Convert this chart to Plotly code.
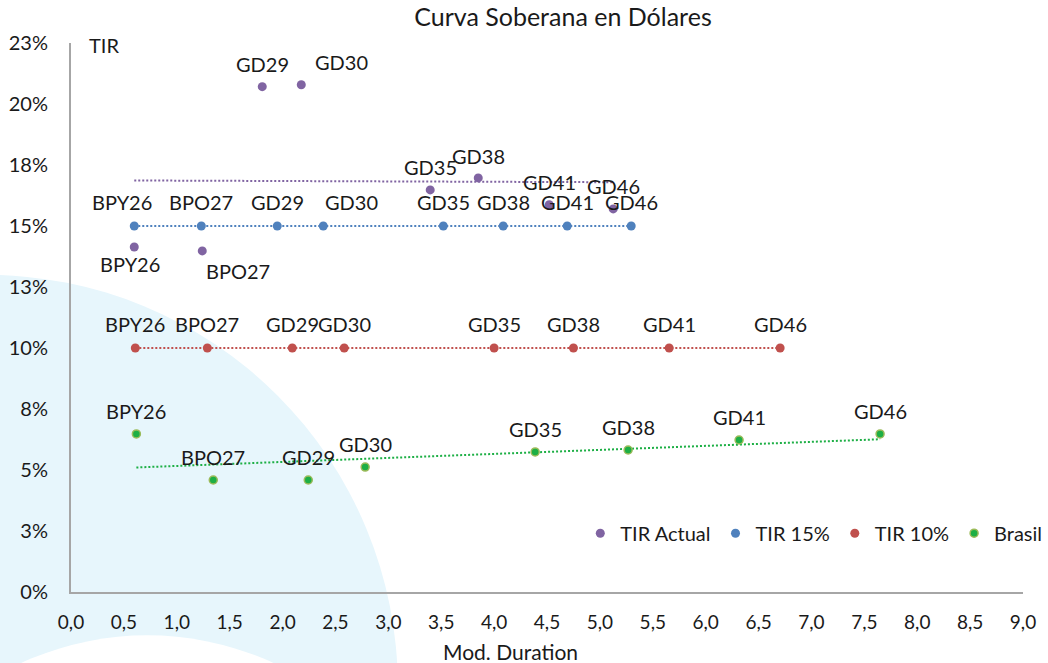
import numpy as np
import plotly.graph_objects as go

# ---------------- data ----------------
bonds = ["BPY26", "BPO27", "GD29", "GD30", "GD35", "GD38", "GD41", "GD46"]

actual_x = [0.598, 1.241, 1.808, 2.177, 3.396, 3.850, 4.521, 5.126]
actual_y = [14.14, 13.98, 20.71, 20.79, 16.48, 16.97, 15.87, 15.70]

tir15_x = [0.598, 1.232, 1.950, 2.385, 3.520, 4.086, 4.691, 5.296]
tir15_y = [15.0, 15.0, 15.0, 15.0, 15.0, 15.0, 15.0, 15.0]

tir10_x = [0.608, 1.289, 2.092, 2.583, 4.000, 4.750, 5.655, 6.704]
tir10_y = [10.0, 10.0, 10.0, 10.0, 10.0, 10.0, 10.0, 10.0]

brasil_x = [0.618, 1.345, 2.243, 2.781, 4.388, 5.267, 6.316, 7.649]
brasil_y = [6.48, 4.59, 4.59, 5.12, 5.74, 5.82, 6.23, 6.48]

y_tickvals = [0, 2.5, 5, 7.5, 10, 12.5, 15, 17.5, 20, 22.5]
y_ticktext = ["0%", "3%", "5%", "8%", "10%", "13%", "15%", "18%", "20%", "23%"]
x_tickvals = [0, 0.5, 1, 1.5, 2, 2.5, 3, 3.5, 4, 4.5, 5, 5.5, 6, 6.5, 7, 7.5, 8, 8.5, 9]

series_names = ["TIR Actual", "TIR 15%", "TIR 10%", "Brasil"]

# ---------------- styles / label offsets ----------------
FONT = "Lato"
TXT = "#1a1a1a"
colors = ["#8064A2", "#4F81BD", "#C0504D", "#1DAF45"]
outline = ["#8064A2", "#4F81BD", "#C0504D", "#9BBB59"]

# (xshift, yshift) in px for each data label
label_offsets = [
    [(-4, -17), (36, -20), (0, 23), (40, 23), (0, 23), (0, 22), (0, 23), (0, 23)],
    [(-12, 24), (0, 24), (0, 24), (28, 24), (0, 24), (0, 24), (0, 24), (0, 24)],
    [(0, 24), (0, 24), (0, 24), (0, 24), (0, 24), (0, 24), (0, 24), (0, 24)],
    [(0, 23), (0, 23), (0, 23), (0, 23), (0, 23), (0, 23), (0, 23), (0, 23)],
]

all_x = [actual_x, tir15_x, tir10_x, brasil_x]
all_y = [actual_y, tir15_y, tir10_y, brasil_y]

fig = go.Figure()

# plot area in pixels: x 70.7..1022.7, y 43.4..591.7 in 1048x663
W, H = 1048, 663
L, R, T, B = 70.7, 1022.7, 43.4, 591.7


def px2paper(px, py):
    return (px - L) / (R - L), (B - py) / (B - T)


# decorative background circles
bx0, by0 = px2paper(-424.5, 275)
bx1, by1 = px2paper(397.5, 1097)
wx0, wy0 = px2paper(-155, 635)
wx1, wy1 = px2paper(449, 1239)
shapes = [
    dict(type="circle", xref="paper", yref="paper", x0=bx0, x1=bx1, y0=by1, y1=by0,
         fillcolor="#E7F6FC", line=dict(width=0), layer="below"),
    dict(type="circle", xref="paper", yref="paper", x0=wx0, x1=wx1, y0=wy1, y1=wy0,
         fillcolor="#FFFFFF", line=dict(width=0), layer="below"),
]

# trend lines (linear fit, as in the source chart)
for xs, ys, c in zip(all_x, all_y, colors):
    k, b0 = np.polyfit(xs, ys, 1)
    tx = np.array([min(xs), max(xs)])
    fig.add_trace(go.Scatter(x=tx, y=k * tx + b0, mode="lines", showlegend=False,
                             hoverinfo="skip",
                             line=dict(color=c, width=2, dash="2px,2px")))

# points
for name, xs, ys, c, oc in zip(series_names, all_x, all_y, colors, outline):
    fig.add_trace(go.Scatter(x=xs, y=ys, mode="markers", name=name,
                             marker=dict(color=c, size=9 if name != "Brasil" else 8,
                                         line=dict(color=oc, width=1.5 if name == "Brasil" else 0))))

annotations = []
for xs, ys, offs in zip(all_x, all_y, label_offsets):
    for bname, xv, yv, (dx, dy) in zip(bonds, xs, ys, offs):
        annotations.append(dict(x=xv, y=yv, xref="x", yref="y", text=bname, showarrow=False,
                                xshift=dx, yshift=dy, xanchor="center", yanchor="middle",
                                font=dict(family=FONT, size=20, color=TXT)))

tx, ty = px2paper(104, 45)
annotations.append(dict(x=tx, y=ty, xref="paper", yref="paper", text="TIR", showarrow=False,
                        xanchor="center", yanchor="middle",
                        font=dict(family=FONT, size=20, color=TXT)))
mx, my = px2paper(510, 651)
annotations.append(dict(x=mx, y=my, xref="paper", yref="paper", text="Mod. Duration",
                        showarrow=False, xanchor="center", yanchor="middle",
                        font=dict(family=FONT, size=21, color=TXT)))

lx, ly = px2paper(1047, 533)

fig.update_layout(
    width=W, height=H,
    margin=dict(l=L, r=W - R, t=T, b=H - B, pad=0, autoexpand=False),
    paper_bgcolor="white", plot_bgcolor="rgba(0,0,0,0)",
    separators=",.",
    title=dict(text="Curva Soberana en Dólares", x=563 / W, xanchor="center",
               y=1 - 17 / H, yanchor="middle", yref="container",
               font=dict(family=FONT, size=25, color=TXT)),
    xaxis=dict(range=[0, 9], tickvals=x_tickvals, tickformat=".1f", showgrid=False,
               zeroline=False, showline=True, linecolor="#A6A6A6", linewidth=2,
               ticks="", ticklabelstandoff=12, automargin=False,
               tickfont=dict(family=FONT, size=19, color=TXT)),
    yaxis=dict(range=[0, 22.5], tickvals=y_tickvals, ticktext=y_ticktext, showgrid=False,
               zeroline=False, showline=True, linecolor="#A6A6A6", linewidth=2,
               ticks="", ticklabelstandoff=17, automargin=False,
               tickfont=dict(family=FONT, size=20, color=TXT)),
    legend=dict(orientation="h", x=lx, y=ly, xanchor="right", yanchor="middle",
                bgcolor="rgba(0,0,0,0)", font=dict(family=FONT, size=20, color=TXT),
                itemwidth=30, tracegroupgap=0),
    shapes=shapes,
    annotations=annotations,
    showlegend=True,
)

fig.write_html("out.html", config={"displayModeBar": False},
               post_script="document.body.style.margin='0px';document.body.style.padding='0px';")
